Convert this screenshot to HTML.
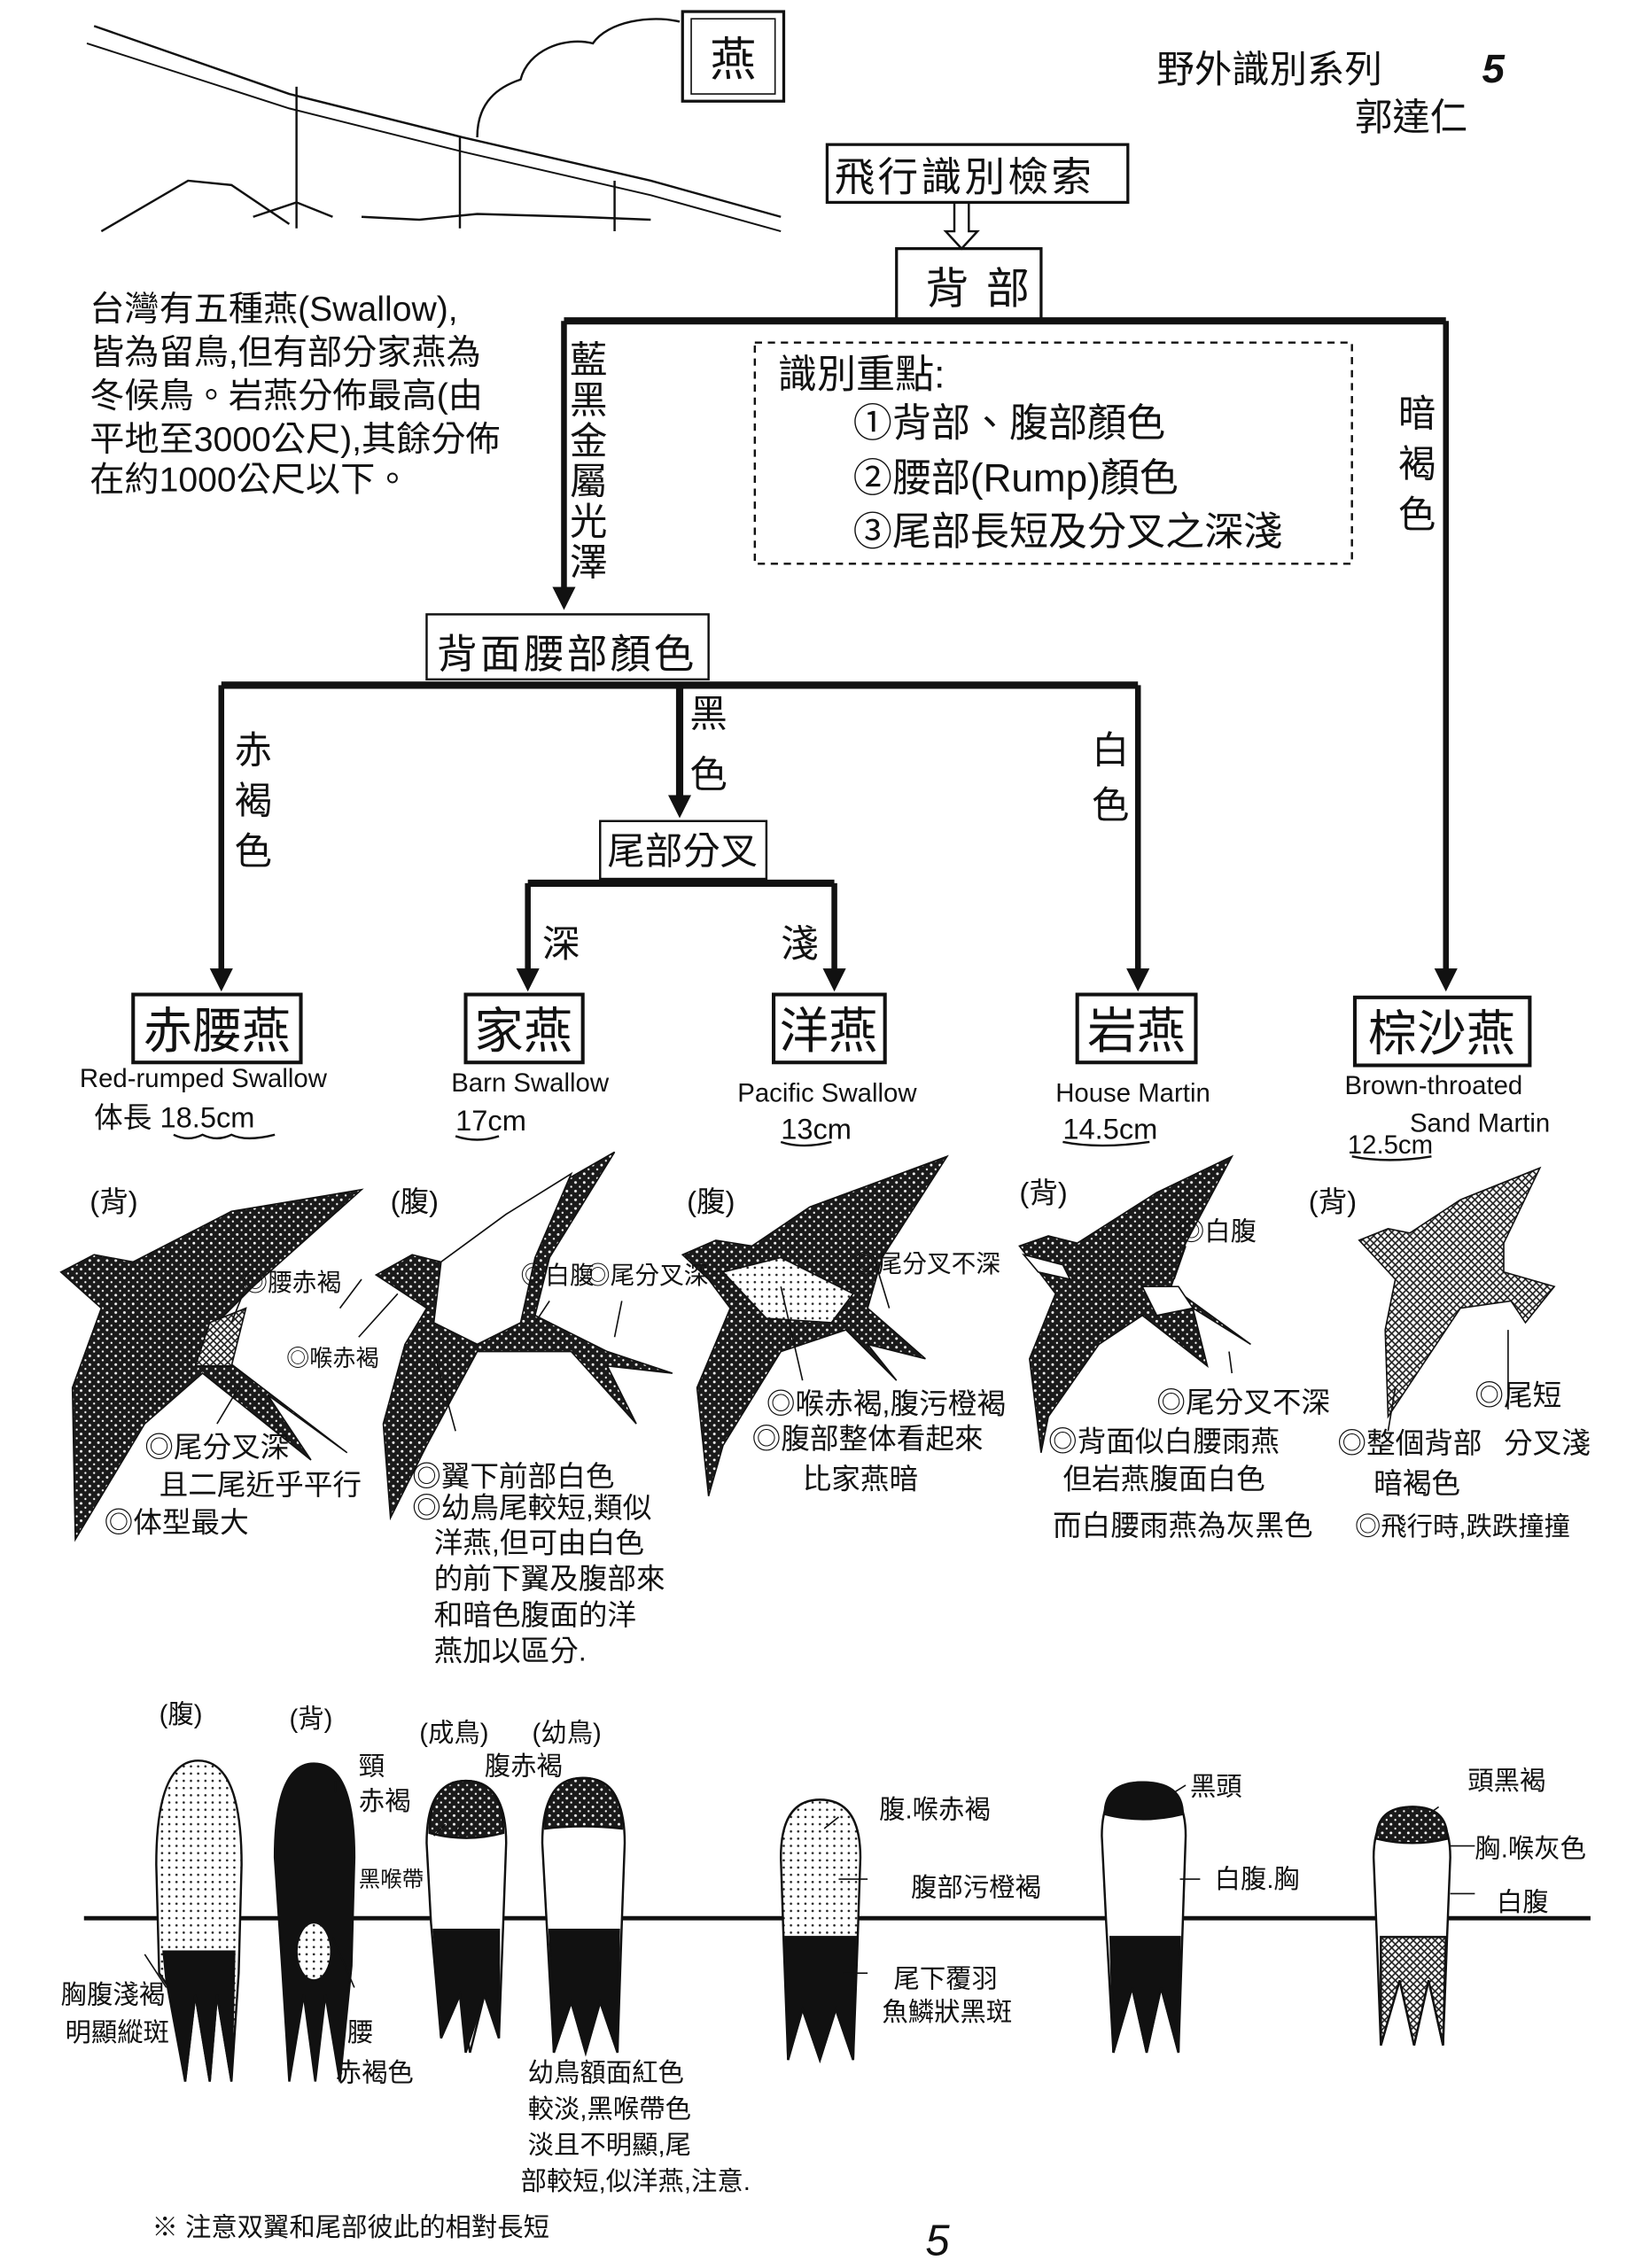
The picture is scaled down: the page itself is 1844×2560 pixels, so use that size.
<!DOCTYPE html>
<html><head><meta charset="utf-8"><style>
html,body{margin:0;padding:0;background:#fff}
svg{display:block}
text{font-family:"Liberation Sans","Noto Sans CJK TC","WenQuanYi Zen Hei",sans-serif;fill:#111}
</style></head><body>
<svg width="1844" height="2560" viewBox="0 0 1130 1569" xmlns="http://www.w3.org/2000/svg">
<defs>
<pattern id="st" width="6" height="6" patternUnits="userSpaceOnUse"><rect width="6" height="6" fill="#1a1a1a"/><circle cx="2" cy="2" r="0.9" fill="#fff"/><circle cx="5" cy="5" r="0.7" fill="#fff"/></pattern>
<pattern id="lt" width="5" height="5" patternUnits="userSpaceOnUse"><rect width="5" height="5" fill="#fff"/><circle cx="2" cy="2" r="0.8" fill="#222"/></pattern>
<pattern id="hz" width="5" height="5" patternUnits="userSpaceOnUse"><rect width="5" height="5" fill="#fff"/><path d="M0 0L5 5M5 0L0 5" stroke="#222" stroke-width="1"/></pattern>
<marker id="ar" markerWidth="16" markerHeight="16" refX="8" refY="8" orient="auto" markerUnits="userSpaceOnUse" viewBox="0 0 16 16"><path d="M0 0L16 8L0 16Z" fill="#111" stroke="none"/></marker>
</defs>
<g fill="none" stroke="#111">
<path d="M65 18 L200 65 L320 95 L450 125 L540 150" stroke-width="1.5"/>
<path d="M60 30 L200 75 L320 105 L450 135 L540 160" stroke-width="1.2"/>
<path d="M205 60V158M318 95V158M425 125V160" stroke-width="1.5"/>
<path d="M70 160 L130 125 L160 128 L200 155 M175 150 L205 140 L230 150 M250 150 L290 152 L330 148 L400 150 L450 152" stroke-width="1.5"/>
<path d="M330 95 C330 70 345 60 360 55 C365 35 390 25 410 30 C420 15 450 10 470 15" stroke-width="1.5"/>
<rect x="472" y="8" width="70" height="62" stroke-width="2"/>
<rect x="478" y="13" width="58" height="52" stroke-width="1"/>
<rect x="572" y="100" width="208" height="40" stroke-width="2"/>
<path d="M660 140V160H654L665 172L676 160H670V140" stroke-width="1.5"/>
<rect x="620" y="172" width="100" height="50" stroke-width="2"/>
<path d="M390 222H1000" stroke-width="5"/>
<path d="M390 222V414" stroke-width="4" marker-end="url(#ar)"/>
<path d="M1000 222V678" stroke-width="4" marker-end="url(#ar)"/>
<rect x="522" y="237" width="413" height="153" stroke-width="1.5" stroke-dasharray="5,4"/>
<rect x="295" y="425" width="195" height="45" stroke-width="1.5"/>
<path d="M153 474H787" stroke-width="5"/>
<path d="M153 474V678" stroke-width="4" marker-end="url(#ar)"/>
<path d="M470 474V558" stroke-width="5" marker-end="url(#ar)"/>
<path d="M787 474V678" stroke-width="4" marker-end="url(#ar)"/>
<rect x="415" y="568" width="115" height="40" stroke-width="1.5"/>
<path d="M365 611H577" stroke-width="5"/>
<path d="M365 611V678" stroke-width="4" marker-end="url(#ar)"/>
<path d="M577 611V678" stroke-width="4" marker-end="url(#ar)"/>
<rect x="92" y="688" width="116" height="47" stroke-width="2.5"/>
<rect x="322" y="688" width="81" height="47" stroke-width="2.5"/>
<rect x="535" y="688" width="77" height="47" stroke-width="2.5"/>
<rect x="745" y="688" width="82" height="47" stroke-width="2.5"/>
<rect x="937" y="690" width="121" height="47" stroke-width="2.5"/>
<path d="M120 785 Q130 790 140 785 Q150 790 160 785 Q170 790 190 785M315 786Q330 791 345 786M540 790Q555 795 575 790M735 790Q760 795 795 790M935 800Q960 805 990 800" stroke-width="1.5"/>
<path d="M58 1327H1100" stroke-width="3"/>
</g>
<g stroke="#111" stroke-width="1">
<path d="M42 880 L65 868 L92 873 L160 838 L250 823 L175 890 L150 915 L155 940 L240 1005 L185 965 L215 1010 L140 950 L100 985 L52 1065 L50 960 L70 905Z" fill="url(#st)"/>
<path d="M145 915 L170 905 L160 945 L135 945Z" fill="url(#hz)"/>
<path d="M260 882 L285 868 L305 873 L350 840 L425 797 L380 870 L370 910 L420 935 L465 950 L420 945 L440 985 L395 935 L330 935 L295 1000 L270 1050 L265 985 L280 930 L295 905Z" fill="url(#st)"/>
<path d="M305 873 L350 840 L395 812 L370 870 L360 915 L330 930 L300 915Z" fill="#fff"/>
<path d="M472 868 L495 858 L520 862 L560 835 L655 800 L610 870 L600 905 L640 940 L600 930 L620 955 L585 920 L540 935 L500 1000 L490 1035 L482 960 L505 905 L490 885Z" fill="url(#st)"/>
<path d="M500 880 L540 870 L590 895 L575 915 L530 912Z" fill="url(#lt)"/>
<path d="M705 862 L725 855 L745 860 L800 825 L852 800 L820 860 L810 890 L865 930 L825 905 L835 945 L790 910 L760 930 L725 980 L720 1005 L712 940 L730 895Z" fill="url(#st)"/>
<path d="M790 890 L815 890 L825 905 L800 910Z" fill="#fff"/>
<path d="M708 868 L735 875 L740 885 L718 880Z" fill="#fff"/>
<path d="M940 858 L960 850 L975 853 L1010 830 L1065 808 L1040 860 L1040 880 L1075 890 L1055 915 L1045 900 L1010 905 L980 950 L960 980 L958 920 L965 885Z" fill="url(#hz)"/>
</g>
<g stroke="#111" stroke-width="1.5">
<path d="M108 1290 Q108 1218 137 1218 Q167 1218 167 1290 L165 1365 L160 1440 L150 1380 L145 1440 L135 1380 L128 1440 L120 1380 L110 1365Z" fill="url(#lt)"/>
<path d="M113 1350 L162 1350 L160 1440 L150 1380 L145 1440 L135 1380 L128 1440 L115 1370Z" fill="#111"/>
<path d="M190 1285 Q190 1220 217 1220 Q245 1220 245 1285 L243 1360 L235 1440 L225 1380 L218 1440 L210 1380 L200 1440 L195 1360Z" fill="#111"/>
<ellipse cx="217" cy="1350" rx="12" ry="20" fill="url(#lt)"/>
<path d="M295 1275 Q295 1232 322 1232 Q350 1232 350 1275 L348 1330 L345 1410 L335 1380 L325 1420 L318 1380 L305 1410 L298 1330Z" fill="#fff"/>
<path d="M297 1268 Q297 1232 322 1232 Q348 1232 348 1268 Q322 1275 297 1268Z" fill="url(#st)"/>
<path d="M300 1335 L345 1335 L345 1410 L335 1380 L322 1420 L318 1380 L305 1410Z" fill="#111"/>
<path d="M375 1275 Q375 1230 403 1230 Q432 1230 432 1275 L430 1330 L427 1420 L415 1385 L405 1420 L395 1385 L383 1420 L378 1330Z" fill="#fff"/>
<path d="M377 1265 Q377 1230 403 1230 Q430 1230 430 1265 Q403 1262 377 1265Z" fill="url(#st)"/>
<path d="M380 1335 L428 1335 L427 1420 L415 1385 L405 1420 L395 1385 L383 1420Z" fill="#111"/>
<path d="M540 1285 Q540 1245 567 1245 Q595 1245 595 1285 L593 1345 L590 1425 L578 1390 L567 1425 L555 1390 L545 1425 L542 1345Z" fill="url(#lt)"/>
<path d="M543 1340 L592 1340 L590 1425 L578 1390 L567 1425 L555 1390 L545 1425Z" fill="#111"/>
<path d="M762 1270 Q762 1233 790 1233 Q820 1233 820 1270 L818 1330 L815 1420 L803 1375 L793 1420 L783 1375 L770 1420 L765 1330Z" fill="#fff"/>
<path d="M764 1255 Q764 1233 790 1233 Q818 1233 818 1255 Q790 1262 764 1255Z" fill="#111"/>
<path d="M768 1340 L816 1340 L815 1420 L803 1375 L793 1420 L783 1375 L770 1420Z" fill="#111"/>
<path d="M950 1285 Q950 1250 977 1250 Q1003 1250 1003 1285 L1001 1335 L998 1415 L988 1370 L978 1415 L968 1370 L955 1415 L952 1335Z" fill="#fff"/>
<path d="M952 1272 Q952 1250 977 1250 Q1001 1250 1001 1272 Q977 1278 952 1272Z" fill="url(#st)"/>
<path d="M955 1340 L1000 1340 L998 1415 L988 1370 L978 1415 L968 1370 L955 1415Z" fill="url(#hz)"/>
</g>
<g stroke="#111" stroke-width="1" fill="none">
<path d="M168 895L160 915M235 905L250 885M380 900L370 915M430 900L425 925M248 925L275 895M315 990L300 935M540 890L555 955M605 872L615 905M820 862L812 885M850 935L852 950M1043 975L1043 920M960 990L965 960M150 985L165 960M115 1375L100 1352M245 1375L230 1340M320 1260L315 1270M232 1232L232 1240M580 1257L570 1265M600 1300L580 1300M600 1365L583 1365M820 1235L812 1240M830 1300L816 1300M995 1250L988 1255M1020 1277L1003 1277M1020 1310L1003 1310M308 1262L300 1270"/>
</g>
<text x="507" y="52" font-size="32" text-anchor="middle">燕</text>
<text x="800" y="57" font-size="26">野外識別系列</text>
<text x="1025" y="57" font-size="28" font-style="italic" font-weight="bold">5</text>
<text x="937" y="90" font-size="26">郭達仁</text>
<text x="577" y="132" font-size="28" letter-spacing="2">飛行識別檢索</text>
<text x="640" y="210" font-size="30" letter-spacing="12">背部</text>
<g font-size="24">
<text x="62" y="222">台灣有五種燕(Swallow),</text>
<text x="62" y="252">皆為留鳥,但有部分家燕為</text>
<text x="62" y="282">冬候鳥。岩燕分佈最高(由</text>
<text x="62" y="312">平地至3000公尺),其餘分佈</text>
<text x="62" y="340">在約1000公尺以下。</text>
</g>
<g font-size="27">
<text x="538" y="268">識別重點:</text>
<text x="590" y="302">①背部、腹部顏色</text>
<text x="590" y="340">②腰部(Rump)顏色</text>
<text x="590" y="377">③尾部長短及分叉之深淺</text>
</g>
<g font-size="26" text-anchor="middle">
<text x="407" y="258">藍</text><text x="407" y="286">黑</text><text x="407" y="314">金</text><text x="407" y="342">屬</text><text x="407" y="370">光</text><text x="407" y="398">澤</text>
<text x="980" y="295">暗</text><text x="980" y="330">褐</text><text x="980" y="365">色</text>
<text x="175" y="528">赤</text><text x="175" y="563">褐</text><text x="175" y="598">色</text>
<text x="490" y="503">黑</text><text x="490" y="545">色</text>
<text x="768" y="528">白</text><text x="768" y="566">色</text>
<text x="388" y="662">深</text><text x="553" y="662">淺</text>
</g>
<text x="392" y="462" font-size="28" text-anchor="middle" letter-spacing="2">背面腰部顏色</text>
<text x="472" y="598" font-size="26" text-anchor="middle">尾部分叉</text>
<g font-size="34" text-anchor="middle">
<text x="150" y="725">赤腰燕</text><text x="362" y="725">家燕</text><text x="573" y="725">洋燕</text><text x="786" y="725">岩燕</text><text x="997" y="727">棕沙燕</text>
</g>
<g font-size="18">
<text x="55" y="752">Red-rumped Swallow</text>
<text x="65" y="780" font-size="20">体長 18.5cm</text>
<text x="312" y="755">Barn Swallow</text>
<text x="315" y="782" font-size="20">17cm</text>
<text x="510" y="762">Pacific Swallow</text>
<text x="540" y="788" font-size="20">13cm</text>
<text x="730" y="762">House Martin</text>
<text x="735" y="788" font-size="20">14.5cm</text>
<text x="930" y="757">Brown-throated</text>
<text x="975" y="783">Sand Martin</text>
<text x="932" y="798" font-size="18">12.5cm</text>
</g>
<g font-size="20">
<text x="62" y="838">(背)</text><text x="270" y="838">(腹)</text><text x="475" y="838">(腹)</text><text x="705" y="832">(背)</text><text x="905" y="838">(背)</text>
<text x="168" y="893" font-size="17">◎腰赤褐</text>
<text x="198" y="945" font-size="16">◎喉赤褐</text>
<text x="360" y="888" font-size="17">◎白腹</text>
<text x="405" y="888" font-size="17">◎尾分叉深</text>
<text x="590" y="880" font-size="17">◎尾分叉不深</text>
<text x="815" y="858" font-size="18">◎白腹</text>
<text x="100" y="1008">◎尾分叉深</text>
<text x="110" y="1034">且二尾近乎平行</text>
<text x="72" y="1060">◎体型最大</text>
<text x="285" y="1028">◎翼下前部白色</text>
<text x="285" y="1050">◎幼鳥尾較短,類似</text>
<text x="300" y="1074">洋燕,但可由白色</text>
<text x="300" y="1099">的前下翼及腹部來</text>
<text x="300" y="1124">和暗色腹面的洋</text>
<text x="300" y="1149">燕加以區分.</text>
<text x="530" y="978">◎喉赤褐,腹污橙褐</text>
<text x="520" y="1002">◎腹部整体看起來</text>
<text x="555" y="1030">比家燕暗</text>
<text x="800" y="977">◎尾分叉不深</text>
<text x="725" y="1004">◎背面似白腰雨燕</text>
<text x="735" y="1030">但岩燕腹面白色</text>
<text x="728" y="1062">而白腰雨燕為灰黑色</text>
<text x="937" y="1062" font-size="18">◎飛行時,跌跌撞撞</text>
<text x="1020" y="972">◎尾短</text>
<text x="1040" y="1005">分叉淺</text>
<text x="925" y="1005">◎整個背部</text>
<text x="950" y="1033">暗褐色</text>
</g>
<g font-size="18">
<text x="110" y="1192">(腹)</text><text x="200" y="1195">(背)</text><text x="290" y="1205">(成鳥)</text><text x="368" y="1205">(幼鳥)</text>
<text x="248" y="1228">頸</text><text x="248" y="1252">赤褐</text>
<text x="335" y="1228">腹赤褐</text>
<text x="248" y="1305" font-size="15">黑喉帶</text>
<text x="608" y="1258">腹.喉赤褐</text>
<text x="630" y="1312">腹部污橙褐</text>
<text x="618" y="1375">尾下覆羽</text>
<text x="610" y="1398">魚鱗狀黑斑</text>
<text x="823" y="1242">黑頭</text>
<text x="840" y="1306">白腹.胸</text>
<text x="1015" y="1238">頭黑褐</text>
<text x="1020" y="1285">胸.喉灰色</text>
<text x="1035" y="1322">白腹</text>
<text x="42" y="1386">胸腹淺褐</text>
<text x="45" y="1412">明顯縱斑</text>
<text x="240" y="1412">腰</text>
<text x="232" y="1440">赤褐色</text>
<text x="365" y="1440">幼鳥額面紅色</text>
<text x="365" y="1465">較淡,黑喉帶色</text>
<text x="365" y="1490">淡且不明顯,尾</text>
<text x="360" y="1515">部較短,似洋燕,注意.</text>
<text x="105" y="1547">※ 注意双翼和尾部彼此的相對長短</text>
</g>
<text x="640" y="1560" font-size="30" font-style="italic">5</text>
</svg>
</body></html>
